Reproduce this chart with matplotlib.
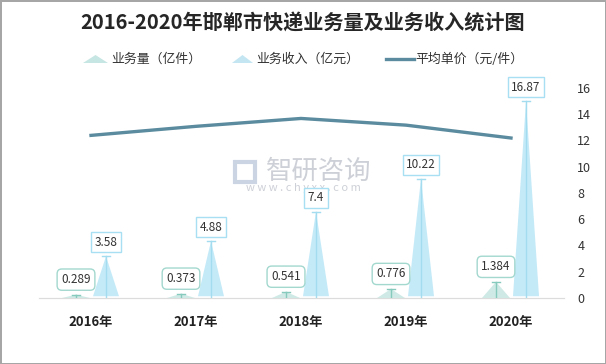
import matplotlib.pyplot as plt
from matplotlib.patches import Polygon, Rectangle
from matplotlib.lines import Line2D

plt.rcParams['font.family'] = ['Noto Sans CJK SC', 'DejaVu Sans']

# data
years = ['2016年', '2017年', '2018年', '2019年', '2020年']
volume = [0.289, 0.373, 0.541, 0.776, 1.384]      # 业务量 (亿件)
revenue = [3.58, 4.88, 7.4, 10.22, 16.87]         # 业务收入 (亿元)
price = [12.39, 13.08, 13.68, 13.17, 12.19]       # 平均单价 (元/件)
price_ticks = [0, 2, 4, 6, 8, 10, 12, 14, 16]

W, H = 606, 364
fig = plt.figure(figsize=(W / 100, H / 100), dpi=100)
fig.patch.set_edgecolor('#a6a6a6')
fig.patch.set_linewidth(2)

ax = fig.add_axes([38.5 / W, (H - 298) / H, 525 / W, 210 / H])
ax.set_xlim(-0.5, len(years) - 0.5)
ax.set_ylim(0, 18)
ax2 = ax.twinx()
ax2.set_ylim(0, 16)

px = 1 / 105  # one pixel in x data units
vol_c = '#cfeae6'
vol_line = '#86c9bd'
rev_c = '#c4eaf8'
rev_line = '#a3dbef'

for i in range(len(years)):
    # volume spike
    c = i - 15 * px
    hw = 14 * px
    ax.add_patch(Polygon([(c - hw, 0), (c, volume[i]), (c + hw, 0)], closed=True,
                         fc=vol_c, ec='none', zorder=2))
    ax.plot([c, c], [0, volume[i]], color=vol_line, lw=1, zorder=3)
    ax.plot([c - 4 * px, c + 4 * px], [volume[i], volume[i]], color=vol_line, lw=1, zorder=3)
    ax.annotate(str(volume[i]), (c, volume[i]), xytext=(0, 15), textcoords='offset pixels',
                ha='center', va='center', fontsize=8.5, color='#333333', zorder=5,
                bbox=dict(boxstyle='round,pad=0.35,rounding_size=0.4', fc='white', ec='#a3d8cf', lw=1))
    # revenue spike
    c = i + 15 * px
    hw = 13 * px
    ax.add_patch(Polygon([(c - hw, 0.15), (c, revenue[i]), (c + hw, 0.15)], closed=True,
                         fc=rev_c, ec='none', zorder=2))
    ax.plot([c, c], [0, revenue[i]], color=rev_line, lw=1, zorder=3)
    ax.plot([c - 4 * px, c + 4 * px], [revenue[i], revenue[i]], color=rev_line, lw=1, zorder=3)
    ax.annotate(str(revenue[i]), (c, revenue[i]), xytext=(0, 14), textcoords='offset pixels',
                ha='center', va='center', fontsize=8.5, color='#333333', zorder=5,
                bbox=dict(boxstyle='square,pad=0.3', fc='white', ec='#a8dff2', lw=1))

ax2.plot(range(len(years)), price, color='#5a8b9e', lw=2.4, zorder=4)

ax.set_xticks(range(len(years)))
ax.set_xticklabels(years, fontsize=9.5, fontweight='bold', color='#222222')
ax.tick_params(axis='x', length=0, pad=12)
ax.set_yticks([])
ax2.set_yticks(price_ticks)
ax2.tick_params(axis='y', length=0, labelsize=9, labelcolor='#333333', pad=10)
for a in (ax, ax2):
    for s in ['top', 'left', 'right']:
        a.spines[s].set_visible(False)
    a.spines['bottom'].set_color('#dcdcdc')
ax.set_zorder(ax2.get_zorder() + 1)
ax.patch.set_visible(False)

# title
fig.text(303 / W, 1 - 23 / H, '2016-2020年邯郸市快递业务量及业务收入统计图',
         ha='center', va='center', fontsize=14.5, fontweight='bold', color='#262626')

# legend
ly = 1 - 59 / H
def tri(x0, x1, color):
    fig.patches.append(Polygon([(x0 / W, ly - 4 / H), ((x0 + x1) / 2 / W, ly + 4 / H), (x1 / W, ly - 4 / H)],
                               closed=True, fc=color, ec='none', transform=fig.transFigure))
tri(83, 108, '#c6e6e3')
fig.text(111 / W, ly, '业务量（亿件）', ha='left', va='center', fontsize=9.3, color='#333333')
tri(232, 253, '#c3e6f2')
fig.text(256 / W, ly, '业务收入（亿元）', ha='left', va='center', fontsize=9.3, color='#333333')
fig.lines.append(Line2D([386 / W, 414 / W], [ly, ly], color='#5a8b9e', lw=2.4, transform=fig.transFigure))
fig.text(415 / W, ly, '平均单价（元/件）', ha='left', va='center', fontsize=9.3, color='#333333')

# watermark
fig.text(319 / W, 1 - 171 / H, '智研咨询', ha='center', va='center', fontsize=19, color='#cdd0d7', zorder=0)
fig.text(303 / W, 1 - 188 / H, 'w w w . c h y x x . c o m', ha='center', va='center',
         fontsize=8, color='#cdd0d7', zorder=0)
fig.patches.append(Rectangle((235 / W, 1 - 182 / H), 20 / W, 20 / H, fc='none', ec='#cbd4e2', lw=3,
                             transform=fig.transFigure, zorder=0))

fig.savefig('out.png', dpi=100)
